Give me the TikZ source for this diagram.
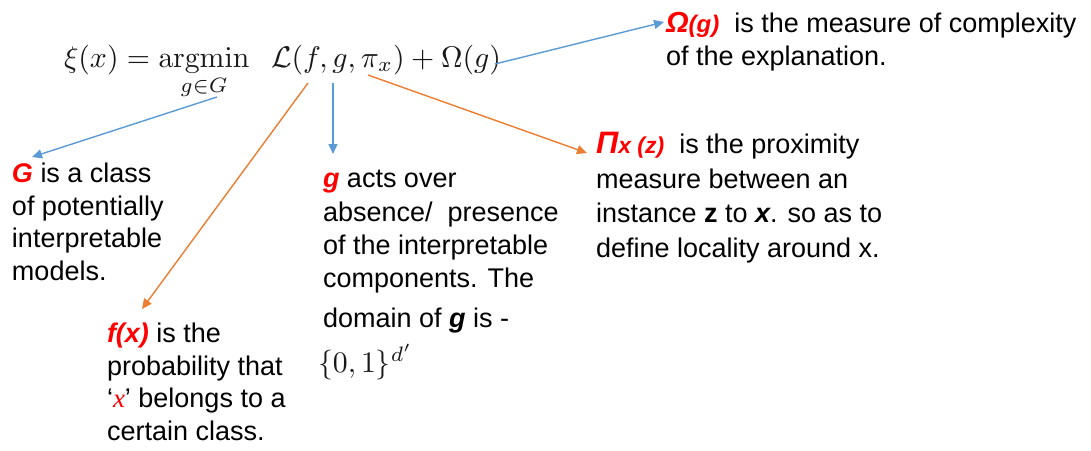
\documentclass[tikz,border=0pt]{standalone}
\usepackage{amsmath}
\usepackage{graphicx}
\usepackage[no-math]{fontspec}
\setmainfont{Liberation Sans}
\newfontfamily\serifx{Liberation Serif}
\usetikzlibrary{arrows.meta}
\definecolor{lblue}{HTML}{5B9BD5}
\definecolor{lorange}{HTML}{ED7D31}
\definecolor{lred}{HTML}{FF0000}
\newcommand{\hl}[1]{{\color{lred}\bfseries\itshape #1}}
\begin{document}
\begin{tikzpicture}[x=1pt,y=-1pt,
  every node/.style={inner sep=0pt, outer sep=0pt},
  txt/.style={font=\fontsize{27}{32.5}\selectfont, align=left, anchor=base west},
  mathtxt/.style={anchor=base west, text=black!90},
  barrow/.style={draw=lblue, line width=1.4pt, -{Triangle[length=10pt,width=9pt]}},
  oarrow/.style={draw=lorange, line width=1.4pt, -{Triangle[length=10pt,width=9pt]}}]
\useasboundingbox (0,0) rectangle (1091,450);
\fill[white] (0,0) rectangle (1091,450);

\node[mathtxt] (eq) at (64,67) {\scalebox{2.98}{$\displaystyle \xi(x) = \operatorname*{argmin}_{g\in G}\;\; \mathcal{L}(f,g,\pi_x)+\Omega(g)$}};

% base west of a multi-line node = baseline of its last line
\node[txt] (om) at (666,65) {\hl{{\fontsize{29}{33}\selectfont Ω}{\fontsize{24}{30}\selectfont(g)}}\ \ is the measure of complexity\\of the explanation.};
\node[txt] (Gt) at (12,280) {\hl{G} is a class\\of potentially\\interpretable\\models.};
\node[txt] (ft) at (107,440) {\hl{f(x)} is the\\probability that\\‘{\color{lred}\serifx\itshape x}’ belongs to a\\certain class.};
\node[txt, font=\fontsize{27}{33.3}\selectfont] (gt) at (323,327) {\hl{g} acts over\\absence/\ \ presence\\of the interpretable\\components. The\\[6pt]domain of {\bfseries\itshape g} is -};
\node[mathtxt] (dom) at (318,372) {\scalebox{2.98}{$\{0,1\}^{d'}$}};
\node[txt, font=\fontsize{27}{34.5}\selectfont] (pt) at (596,257) {\hl{{\fontsize{31}{33}\selectfont Π}{\fontsize{23}{30}\selectfont x (z)}}\ \ is the proximity\\measure between an\\instance {\bfseries z} to {\bfseries\itshape x}. so as to\\define locality around x.};

\coordinate (sOm) at (495,64);
\coordinate (tOm) at (664,22);
\coordinate (sG) at (217,97);
\coordinate (tG) at (32,157);
\coordinate (sf) at (308,83);
\coordinate (tf) at (142,309);
\coordinate (sg) at (333,83);
\coordinate (tg) at (333,154);
\coordinate (sp) at (368,75);
\coordinate (tp) at (587,153);

\draw[barrow] (sOm) -- (tOm);
\draw[barrow] (sG) -- (tG);
\draw[oarrow] (sf) -- (tf);
\draw[barrow] (sg) -- (tg);
\draw[oarrow] (sp) -- (tp);
\end{tikzpicture}
\end{document}
